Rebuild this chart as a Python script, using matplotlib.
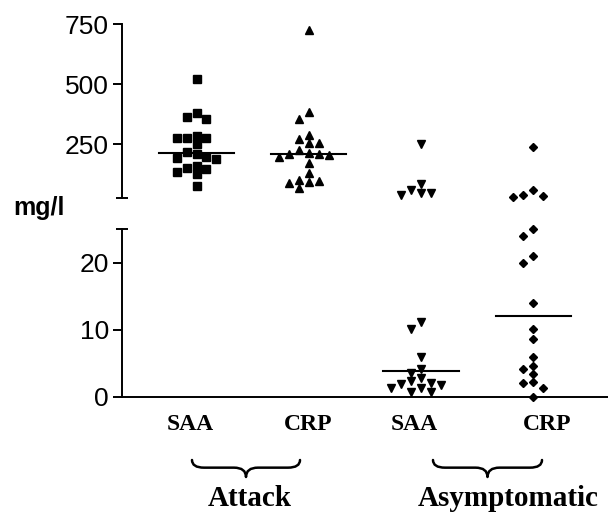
import numpy as np
import matplotlib
matplotlib.use("Agg")
import matplotlib.pyplot as plt
from matplotlib.path import Path
from matplotlib.patches import PathPatch

# values (mg/l)
saa_attack = [520, 378, 354, 364, 274, 274, 249, 274, 283, 207, 190, 197, 218, 187,
              158, 144, 135, 149, 124, 75]
crp_attack = [725, 385, 354, 288, 253, 253, 271, 214, 208, 172, 195, 204, 208, 225,
              128, 100, 93, 86, 96, 65]
saa_asympt = [250, 82, 47, 37, 47, 58, 11.1, 10.1, 5.9, 4.1, 3.6, 2.8, 2.3, 2.1,
              1.7, 1.3, 0.7, 0.7, 1.3, 1.9]
crp_asympt = [239, 58, 30, 35, 37.5, 25.0, 24.0, 21.0, 20.0, 14.0, 10.1, 8.6, 6.0,
              4.2, 4.6, 3.4, 2.2, 2.1, 1.3, 0.0]
groups = [saa_attack, crp_attack, saa_asympt, crp_asympt]
markers = ['s', '^', 'v', 'D']
tick_names = ['SAA', 'CRP', 'SAA', 'CRP']
group_names = ['Attack', 'Asymptomatic']
split = 25

W, H = 608, 517
fig = plt.figure(figsize=(W / 100, H / 100), dpi=100)

def fx(px): return px / W
def fy(py): return 1 - py / H

ax_top = fig.add_axes([fx(122), fy(198), fx(608) - fx(122) + 0.01, fy(24) - fy(198)])
ax_bot = fig.add_axes([fx(122), fy(396.7), fx(608) - fx(122) + 0.01, fy(229.3) - fy(396.7)])

xmin, xmax = -0.664, 3.72
px_per_x = 113.0
ax_top.set_ylim(split, 750)
ax_bot.set_ylim(0, split)
ax_top.set_yticks([250, 500, 750])
ax_bot.set_yticks([0, 10, 20])
for ax in (ax_top, ax_bot):
    ax.set_xlim(xmin, xmax)
    ax.set_xticks([])
    for s in ['top', 'right']:
        ax.spines[s].set_visible(False)
    ax.spines['left'].set_linewidth(1.4)
    ax.tick_params(axis='y', length=6.5, width=1.4, labelsize=19, pad=3)
    for lab in ax.get_yticklabels():
        lab.set_family('Liberation Sans')
    # break cap at the split value
    ax.plot([xmin], [split], marker='_', ms=9, mew=1.4, color='k', clip_on=False)
ax_top.spines['bottom'].set_visible(False)
ax_bot.spines['bottom'].set_linewidth(1.4)


def swarm(vals, px_per_unit, step=10.0, size=8.0):
    order = np.argsort(vals)[::-1]
    placed = []
    offs = np.zeros(len(vals))
    for i in order:
        y = vals[i] * px_per_unit
        for k in [0, -1, 1, -2, 2, -3, 3, -4, 4]:
            x = k * step
            if all(abs(x - a) >= step - 0.1 or abs(y - b) >= size for a, b in placed):
                break
        placed.append((x, y))
        offs[i] = x / px_per_x
    return offs


for i, (vals, m) in enumerate(zip(groups, markers)):
    vals = np.array(vals, dtype=float)
    hi = vals[vals > split]
    lo = vals[vals <= split]
    ms = {'s': 5.2, '^': 6, 'v': 6, 'D': 4.2}[m]
    if len(hi):
        ax_top.plot(i + swarm(hi, 60 / 250), hi, ls='none', marker=m, ms=ms,
                    color='k', clip_on=False)
    if len(lo):
        ax_bot.plot(i + swarm(lo, 6.7), lo, ls='none', marker=m, ms=ms,
                    color='k', clip_on=False)
    med = np.median(vals)
    ax = ax_top if med > split else ax_bot
    ax.plot([i - 0.335, i + 0.335], [med, med], color='k', lw=1.5)

# labels
fig.text(fx(13), fy(215), 'mg/l', fontsize=18, fontweight='bold',
         family='Liberation Sans', ha='left', va='baseline')
label_x = [190, 308, 414, 547]
for x, t in zip(label_x, tick_names):
    fig.text(fx(x), fy(425), t, fontsize=17, fontweight='bold',
             family='Liberation Serif', ha='center', va='center')


def brace(x0, x1, ytop, h):
    xc = (x0 + x1) / 2
    r = h * 0.45
    q = 12
    pts = [(x0, ytop), (x0, ytop + r), (x0 + q, ytop + r),
           (xc - q, ytop + r), (xc, ytop + r), (xc, ytop + h),
           (xc, ytop + r), (xc + q, ytop + r),
           (x1 - q, ytop + r), (x1, ytop + r), (x1, ytop)]
    codes = [Path.MOVETO, Path.CURVE3, Path.CURVE3, Path.LINETO, Path.CURVE3, Path.CURVE3,
             Path.CURVE3, Path.CURVE3, Path.LINETO, Path.CURVE3, Path.CURVE3]
    verts = [(fx(a), fy(b)) for a, b in pts]
    fig.add_artist(PathPatch(Path(verts, codes), transform=fig.transFigure,
                             fill=False, lw=1.8, color='k', capstyle='round',
                             joinstyle='round'))


brace(192, 300, 460, 17)
brace(433, 542, 460, 17)
fig.text(fx(250), fy(499), group_names[0], fontsize=21, fontweight='bold',
         family='Liberation Serif', ha='center', va='center')
fig.text(fx(508), fy(499), group_names[1], fontsize=21, fontweight='bold',
         family='Liberation Serif', ha='center', va='center')

fig.savefig('out.png', dpi=100)
